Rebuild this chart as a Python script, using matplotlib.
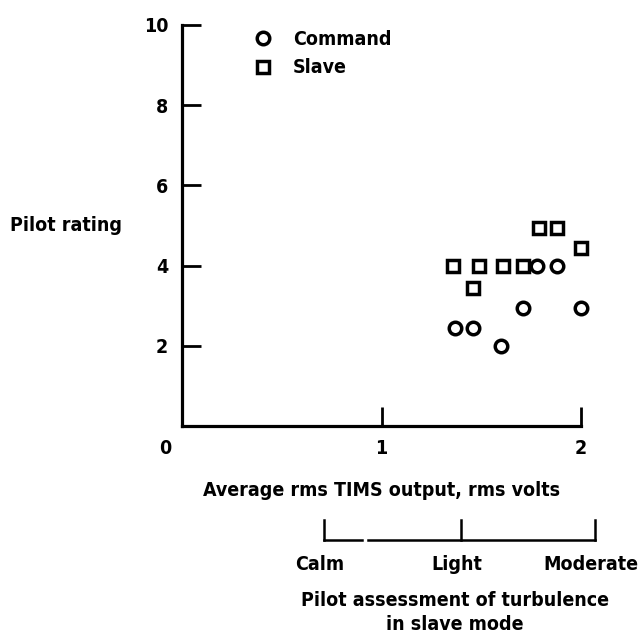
import matplotlib
matplotlib.use("Agg")
import matplotlib.pyplot as plt
from matplotlib.transforms import ScaledTranslation

# values
command_x = [1.37, 1.46, 1.60, 1.71, 1.78, 1.88, 2.00]
command_y = [2.45, 2.45, 2.0, 2.95, 4.0, 4.0, 2.95]
slave_x = [1.36, 1.46, 1.49, 1.61, 1.71, 1.79, 1.88, 2.00]
slave_y = [4.0, 3.45, 4.0, 4.0, 4.0, 4.95, 4.95, 4.45]

x_ticks = [0, 1, 2]
y_ticks = [2, 4, 6, 8, 10]

turb_labels = ["Calm", "Light", "Moderate"]
turb_pos = [0.71, 1.40, 2.07]
turb_gap = (0.90, 0.93)

plt.rcParams["font.family"] = ["DejaVu Sans"]
plt.rcParams["font.stretch"] = "condensed"
plt.rcParams["font.weight"] = "bold"
FS = 14

W, H = 638, 640
fig = plt.figure(figsize=(W / 100, H / 100), dpi=100)

# main axes: y axis at x=182px, x axis at y=426px, top at y=25px, x=2 at 581px
left, right, top, bottom = 182, 581, 25, 426
ax = fig.add_axes([left / W, 1 - bottom / H, (right - left) / W, (bottom - top) / H])

mk = dict(linestyle="none", color="black", markerfacecolor="white",
          markeredgewidth=2.5, clip_on=False)
ax.plot(command_x, command_y, marker="o", markersize=9, label="Command", **mk)
ax.plot(slave_x, slave_y, marker="s", markersize=8.5, label="Slave", **mk)

ax.set_xlim(0, 2)
ax.set_ylim(0, 10)
for s in ["top", "right"]:
    ax.spines[s].set_visible(False)
for s in ["left", "bottom"]:
    ax.spines[s].set_linewidth(2.3)

ax.set_xticks(x_ticks)
ax.set_yticks(y_ticks)
ax.tick_params(direction="in", length=14, width=2, labelsize=FS)
ax.tick_params(axis="x", pad=9)
ax.tick_params(axis="y", pad=10)
lbl0 = ax.get_xticklabels()[0]
lbl0.set_transform(lbl0.get_transform() + ScaledTranslation(-0.17, 0, fig.dpi_scale_trans))

ax.set_xlabel("Average rms TIMS output, rms volts", fontsize=FS, fontweight="bold", labelpad=17)
ax.set_ylabel("Pilot rating", rotation=0, fontsize=FS, fontweight="bold", ha="center", va="center")
ax.yaxis.set_label_coords(-0.29, 0.50)

ax.legend(loc="upper left", bbox_to_anchor=(0.135, 1.032), frameon=False,
          handlelength=1.0, handletextpad=1.05, labelspacing=0.5, fontsize=FS)

# turbulence assessment scale under the x axis
ax2 = fig.add_axes([left / W, 1 - 540 / H, (right - left) / W, 20 / H])
ax2.set_xlim(0, 2)
ax2.set_ylim(0, 1)
ax2.axis("off")
ax2.plot([turb_pos[0], turb_gap[0]], [0, 0], color="black", lw=1.8, clip_on=False)
ax2.plot([turb_gap[1], turb_pos[-1]], [0, 0], color="black", lw=1.8, clip_on=False)
for p, name in zip(turb_pos, turb_labels):
    ax2.plot([p, p], [0, 1], color="black", lw=1.8, clip_on=False)
    ax2.text(p - 0.02, -1.25, name, ha="center", va="center", fontsize=FS, fontweight="bold")

fig.text(455 / W, 1 - 600 / H, "Pilot assessment of turbulence", ha="center", va="center",
         fontsize=FS, fontweight="bold")
fig.text(455 / W, 1 - 625 / H, "in slave mode", ha="center", va="center",
         fontsize=FS, fontweight="bold")

fig.savefig("out.png", dpi=100)
